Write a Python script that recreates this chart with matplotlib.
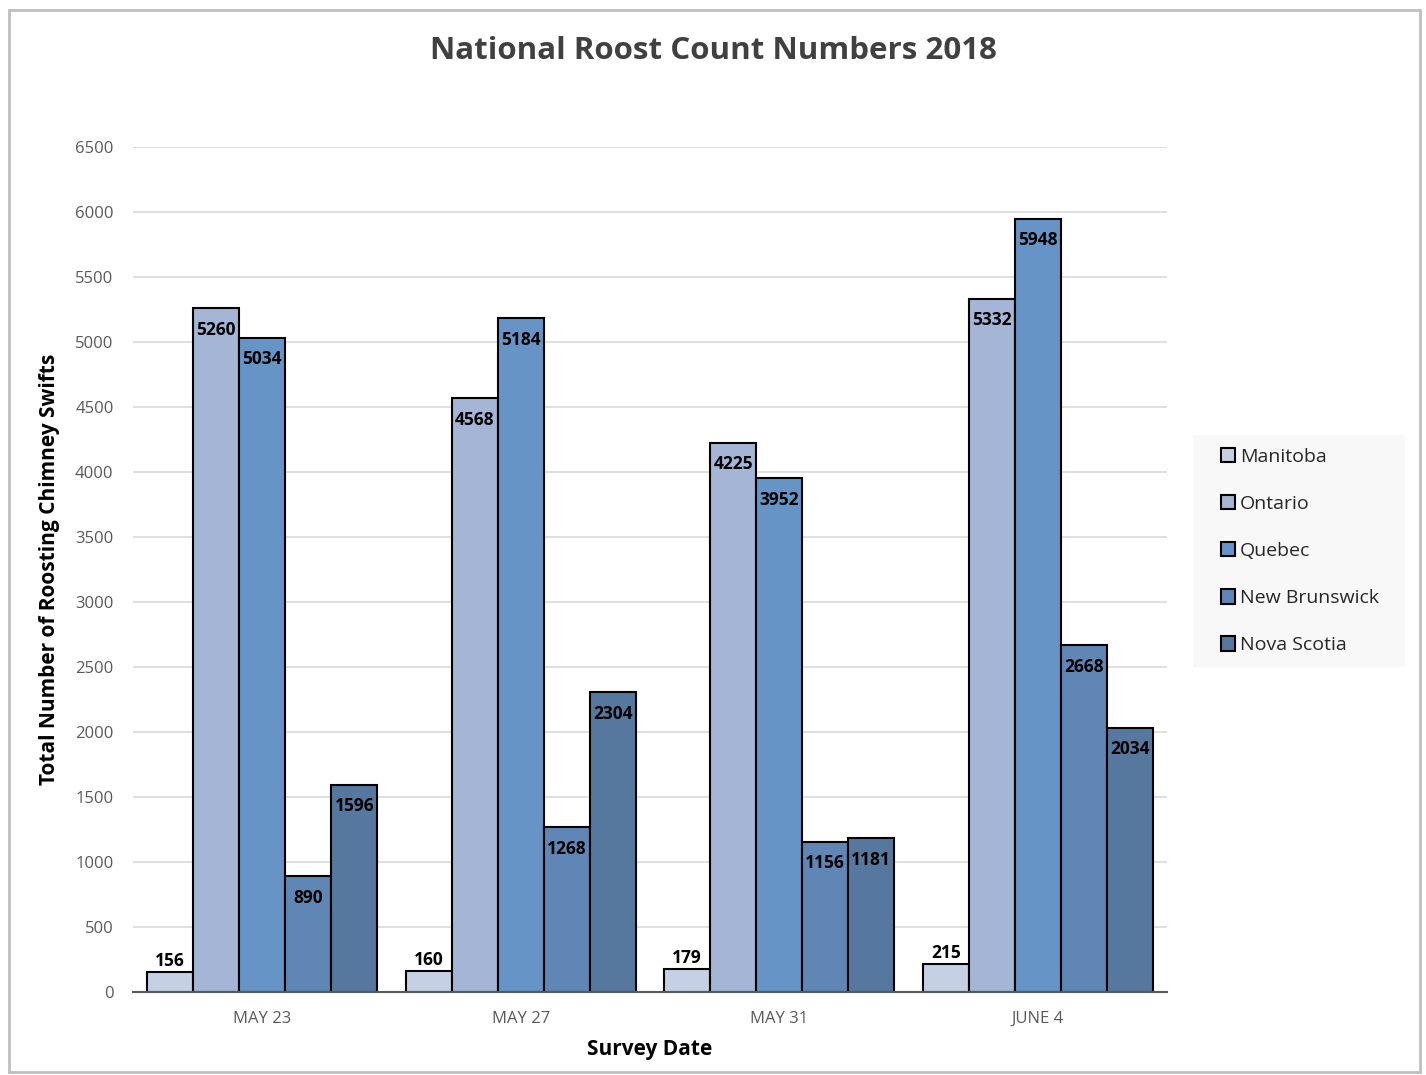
import numpy as np
import matplotlib.pyplot as plt
from matplotlib.patches import Rectangle

# data
dates = ["MAY 23", "MAY 27", "MAY 31", "JUNE 4"]
provinces = ["Manitoba", "Ontario", "Quebec", "New Brunswick", "Nova Scotia"]
manitoba = [156, 160, 179, 215]
ontario = [5260, 4568, 4225, 5332]
quebec = [5034, 5184, 3952, 5948]
new_brunswick = [890, 1268, 1156, 2668]
nova_scotia = [1596, 2304, 1181, 2034]

series = [manitoba, ontario, quebec, new_brunswick, nova_scotia]
colors = ["#c5d0e5", "#a4b5d6", "#6794c6", "#5f86b5", "#56789e"]

plt.rcParams['font.family'] = ['Open Sans', 'DejaVu Sans']

fig = plt.figure(figsize=(14.26, 10.75), dpi=100)
# grey frame round the chart
fig.patches.append(Rectangle((0.006, 0.003), 0.99, 0.988, transform=fig.transFigure,
                             fill=False, edgecolor="#bfbfbf", linewidth=2))
# legend background box (behind everything)
fig.patches.append(Rectangle((0.8366, 0.3795), 0.1487, 0.2158, transform=fig.transFigure,
                             facecolor="#f8f8f8", edgecolor="none", zorder=-1))

ax = fig.add_axes([0.0933, 0.0772, 0.7251, 0.7861])
x = np.arange(len(dates))
width = 0.178
offsets = (np.arange(len(series)) - 2) * width

for i, (vals, name, c) in enumerate(zip(series, provinces, colors)):
    bars = ax.bar(x + offsets[i], vals, width, color=c, edgecolor="black",
                  linewidth=1.5, label=name, zorder=3)
    for b, v in zip(bars, vals):
        cx = b.get_x() + b.get_width() / 2
        if i == 0:
            ax.annotate(str(v), (cx, v), xytext=(0, 1.5), textcoords="offset points",
                        ha="center", va="bottom", fontsize=12.5, fontweight="bold", zorder=4)
        else:
            ax.annotate(str(v), (cx, v), xytext=(0, -9), textcoords="offset points",
                        ha="center", va="top", fontsize=12.5, fontweight="bold", zorder=4)

ax.set_xlim(-0.5, 3.5)
ax.set_ylim(0, 6500)
ax.set_yticks(np.arange(0, 6501, 500))
ax.set_xticks(x)
ax.set_xticklabels(dates)
ax.grid(axis="y", color="#d9d9d9", linewidth=1.2, zorder=0)
for s in ["top", "right", "left"]:
    ax.spines[s].set_visible(False)
ax.spines["bottom"].set_color("#595959")
ax.spines["bottom"].set_linewidth(1.5)
ax.spines["bottom"].set_zorder(5)
ax.tick_params(axis="both", length=0, labelsize=12, labelcolor="#595959")
ax.tick_params(axis="x", pad=13.5)
ax.tick_params(axis="y", pad=14)

ax.set_ylabel("Total Number of Roosting Chimney Swifts", fontsize=15,
              fontweight="bold", labelpad=11)
ax.set_xlabel("Survey Date", fontsize=15, fontweight="bold", labelpad=9)
fig.text(0.5, 0.953, "National Roost Count Numbers 2018", ha="center", va="center",
         fontsize=22.5, fontweight="bold", color="#404040")

handles, labels = ax.get_legend_handles_labels()
leg = fig.legend(handles, labels, loc="center left", bbox_to_anchor=(0.856, 0.4874),
                 frameon=False, fontsize=14,
                 handlelength=0.75, handleheight=0.75, handletextpad=0.25,
                 labelspacing=1.5, borderpad=0, borderaxespad=0)
for t in leg.get_texts():
    t.set_color("#262626")

fig.savefig("out.png", dpi=100, facecolor="white")
